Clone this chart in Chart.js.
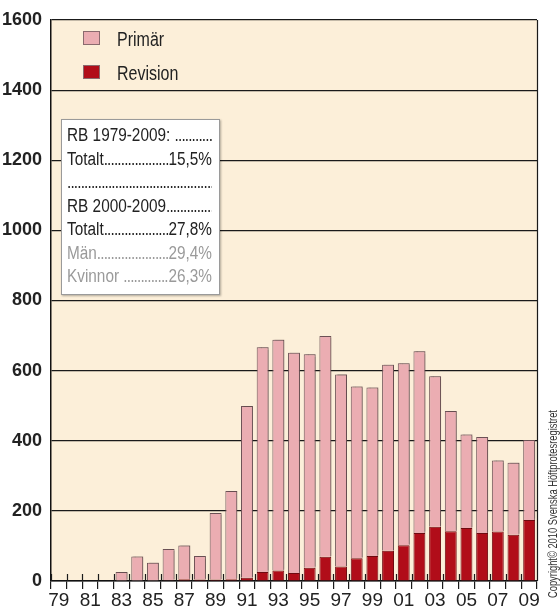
<!DOCTYPE html>
<html>
<head>
<meta charset="utf-8">
<script src="https://cdn.jsdelivr.net/npm/chart.js@4.4.1/dist/chart.umd.min.js"></script>
<style>
  body { margin: 0; background: #fff; }
  #wrap { position: relative; width: 560px; height: 608px; font-family: "Liberation Sans", Arial, sans-serif; color: #222; }
  #legend .item { position: absolute; left: 83px; font-size: 20px; line-height: 20px; }
  #legend .sw { position: absolute; left: 0; top: 2px; width: 15px; height: 12px; border: 1px solid #8a6a6e; }
  #legend .txt { position: absolute; left: 34px; top: 0; white-space: nowrap; display: inline-block;
    transform-origin: left center; transform: scaleX(0.8); }
  #infoBox { position: absolute; left: 61px; top: 119px; width: 145px; height: 170px; padding: 4px 7px 0 5px;
    background: #fff; border: 1px solid #9a9a9a; box-shadow: 1px 1px 2px rgba(0,0,0,0.3); overflow: hidden; }
  #infoInner { width: 170px; transform-origin: left top; transform: scaleX(0.853); font-size: 18px; line-height: 23.5px; }
  .row { display: flex; white-space: nowrap; }
  .row .dots { flex: 1; overflow: hidden; letter-spacing: -1px; }
  .grey { color: #9a9a9a; }
  #copyright { position: absolute; left: 547px; top: 598px; transform-origin: left top; transform: rotate(-90deg);
    font-size: 13px; line-height: 12px; white-space: nowrap; color: #333; }
</style>
</head>
<body>
<div id="wrap">
  <canvas id="hipChart"></canvas>
  <div id="legend">
    <div class="item" style="top:29px"><span class="sw" style="background:#ebadb2"></span><span class="txt">Primär</span></div>
    <div class="item" style="top:63px"><span class="sw" style="background:#b10d19"></span><span class="txt">Revision</span></div>
  </div>
  <div id="infoBox"><div id="infoInner">
    <div class="row"><span>RB 1979-2009:&nbsp;</span><span class="dots">..................................................</span></div>
    <div class="row"><span>Totalt</span><span class="dots">..................................................</span><span>15,5%</span></div>
    <div class="row"><span class="dots">................................................................................</span></div>
    <div class="row"><span>RB 2000-2009</span><span class="dots">..................................................</span></div>
    <div class="row"><span>Totalt</span><span class="dots">..................................................</span><span>27,8%</span></div>
    <div class="row grey"><span>Män</span><span class="dots">..................................................</span><span>29,4%</span></div>
    <div class="row grey"><span>Kvinnor&nbsp;</span><span class="dots">..................................................</span><span>26,3%</span></div>
  </div></div>
  <div id="copyright">Copyright© 2010 Svenska Höftprotesregistret</div>
</div>
<script>
const yearLabels = ['79','80','81','82','83','84','85','86','87','88','89','90','91','92','93','94',
                    '95','96','97','98','99','00','01','02','03','04','05','06','07','08','09'];
const primar = [0, 0, 0, 0, 26, 70, 52, 89, 96, 67, 190, 252, 490, 641, 658, 628,
                609, 630, 548, 490, 481, 531, 519, 518, 429, 343, 267, 274, 203, 205, 228];
const revision = [0, 0, 0, 0, 0, 0, 0, 2, 5, 4, 4, 5, 9, 26, 30, 23,
                  38, 69, 41, 65, 71, 86, 102, 137, 155, 142, 151, 137, 141, 132, 174];
const yTicks = [0, 200, 400, 600, 800, 1000, 1200, 1400, 1600];

const labelFont = '"Liberation Sans", Arial, sans-serif';

// squeeze the rotated copyright line to its length in the original
const copy = document.getElementById('copyright');
copy.style.transform = 'rotate(-90deg) scaleX(' + (188 / copy.scrollWidth).toFixed(3) + ')';

// cream plot background + right frame + small inner ticks on x axis
const framePlugin = {
  id: 'frame',
  beforeDraw(chart) {
    const { ctx, chartArea: a } = chart;
    ctx.save();
    ctx.fillStyle = '#fcefd9';
    ctx.fillRect(a.left, a.top, a.right - a.left, a.bottom - a.top);
    ctx.restore();
  },
  beforeDatasetDraw(chart, args) {
    if (args.index === 1) {
      const ctx = chart.ctx;
      ctx.save();
      ctx.shadowColor = 'rgba(90,70,70,0.45)';
      ctx.shadowOffsetX = 2;
      ctx.shadowOffsetY = -1;
      ctx.shadowBlur = 1;
    }
  },
  afterDatasetDraw(chart, args) {
    if (args.index === 1) chart.ctx.restore();
  },
  afterDatasetsDraw(chart) {
    const { ctx, chartArea: a } = chart;
    const xs = chart.scales.x;
    const n = xs.ticks.length;
    const step = (xs.right - xs.left) / n;
    ctx.save();
    ctx.strokeStyle = '#1a1a1a';
    ctx.lineWidth = 1.2;
    ctx.beginPath();
    for (let i = 0; i <= n; i++) {
      const x = Math.round(xs.left + i * step) + 0.5;
      ctx.moveTo(x, a.bottom - 7);
      ctx.lineTo(x, a.bottom);
    }
    ctx.moveTo(a.right + 0.5, a.top);
    ctx.lineTo(a.right + 0.5, a.bottom);
    ctx.stroke();
    ctx.restore();
  }
};

const ctx = document.getElementById('hipChart').getContext('2d');
new Chart(ctx, {
  type: 'bar',
  data: {
    labels: yearLabels,
    datasets: [
      {
        label: 'Revision',
        data: revision,
        backgroundColor: '#b10d19',
        borderColor: '#6e0a10',
        borderWidth: 1,
        borderSkipped: 'bottom'
      },
      {
        label: 'Primär',
        data: primar,
        backgroundColor: '#ebadb2',
        borderColor: '#6e5257',
        borderWidth: 1,
        borderSkipped: 'bottom'
      }
    ]
  },
  options: {
    responsive: true,
    maintainAspectRatio: false,
    animation: false,
    layout: { padding: { top: 20, right: 23, left: 0, bottom: 0 } },
    datasets: { bar: { barPercentage: 0.76, categoryPercentage: 1 } },
    plugins: { legend: { display: false }, tooltip: { enabled: false } },
    scales: {
      x: {
        stacked: true,
        grid: { offset: true, drawOnChartArea: false, drawTicks: true, tickLength: 8, color: '#1a1a1a', lineWidth: 1.2 },
        border: { display: true, color: '#111', width: 1.5 },
        ticks: {
          autoSkip: false,
          maxRotation: 0,
          padding: 0,
          color: '#222',
          font: { family: labelFont, size: 19 },
          callback: (v, i) => (i % 2 === 0 ? yearLabels[i] : '')
        },
        afterFit: (scale) => { scale.height = 27; }
      },
      y: {
        stacked: true,
        min: 0,
        max: 1600,
        afterBuildTicks: (scale) => { scale.ticks = yTicks.map(v => ({ value: v })); },
        grid: { drawTicks: false, color: '#1a1a1a', lineWidth: 1.2 },
        border: { display: true, color: '#111', width: 1.5 },
        ticks: {
          padding: 9,
          color: '#222',
          font: { family: labelFont, size: 18, weight: 'bold' },
          callback: (v) => String(v)
        },
        afterFit: (scale) => { scale.width = 51; }
      }
    }
  },
  plugins: [framePlugin]
});
</script>
</body>
</html>
